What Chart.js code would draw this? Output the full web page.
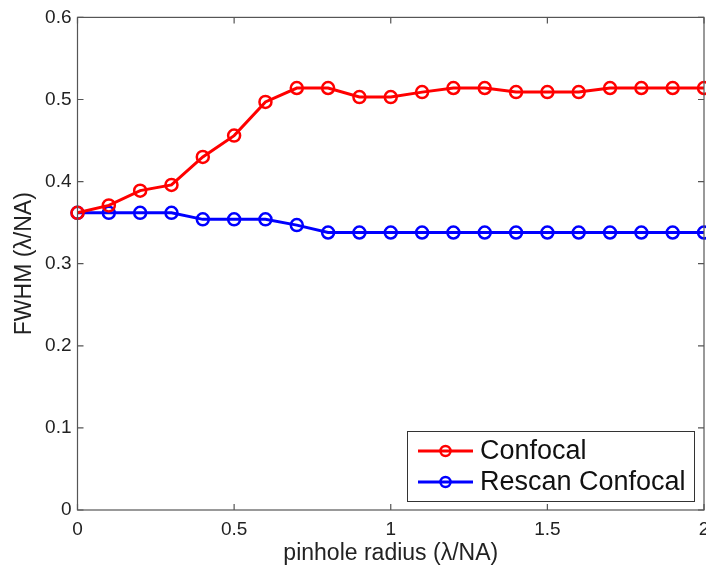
<!DOCTYPE html>
<html>
<head>
<meta charset="utf-8">
<script src="https://cdn.jsdelivr.net/npm/chart.js@4"></script>
<style>
  html, body { margin: 0; padding: 0; background: #fff; }
  #wrap { width: 706px; height: 567px; }
</style>
</head>
<body>
<div id="wrap"><canvas id="fwhmChart" width="706" height="567"></canvas></div>
<script>
// pinhole radius (lambda/NA)
const radius = [0, 0.1, 0.2, 0.3, 0.4, 0.5, 0.6, 0.7, 0.8, 0.9, 1.0,
                1.1, 1.2, 1.3, 1.4, 1.5, 1.6, 1.7, 1.8, 1.9, 2.0];
const confocal = [0.362, 0.371, 0.389, 0.396, 0.430, 0.456, 0.497, 0.514, 0.514, 0.503, 0.503,
                  0.509, 0.514, 0.514, 0.509, 0.509, 0.509, 0.514, 0.514, 0.514, 0.514];
const rescan = [0.362, 0.362, 0.362, 0.362, 0.354, 0.354, 0.354, 0.347, 0.338, 0.338, 0.338,
                0.338, 0.338, 0.338, 0.338, 0.338, 0.338, 0.338, 0.338, 0.338, 0.338];
const seriesNames = ['Confocal', 'Rescan Confocal'];
const seriesColors = ['#ff0000', '#0000ff'];
const xTicks = [0, 0.5, 1, 1.5, 2];
const yTicks = [0, 0.1, 0.2, 0.3, 0.4, 0.5, 0.6];

const FONT = 'Liberation Sans, Arial, sans-serif';

function toPoints(ys) {
  return radius.map(function (x, i) { return { x: x, y: ys[i] }; });
}

// box round the plot, with inward ticks like matlab
const boxPlugin = {
  id: 'boxAxes',
  afterDatasetsDraw: function (chart) {
    const ctx = chart.ctx;
    const a = chart.chartArea;
    const sx = chart.scales.x, sy = chart.scales.y;
    ctx.save();
    ctx.strokeStyle = '#555';
    ctx.lineWidth = 1.2;
    ctx.strokeRect(a.left, a.top, a.right - a.left, a.bottom - a.top);
    ctx.beginPath();
    xTicks.forEach(function (v) {
      const px = sx.getPixelForValue(v);
      ctx.moveTo(px, a.bottom); ctx.lineTo(px, a.bottom - 6);
      ctx.moveTo(px, a.top); ctx.lineTo(px, a.top + 6);
    });
    yTicks.forEach(function (v) {
      const py = sy.getPixelForValue(v);
      ctx.moveTo(a.left, py); ctx.lineTo(a.left + 6, py);
      ctx.moveTo(a.right, py); ctx.lineTo(a.right - 6, py);
    });
    ctx.stroke();

    // legend box, bottom right
    const lx = 407, ly = 431, lw = 287, lh = 70;
    ctx.fillStyle = '#fff';
    ctx.fillRect(lx, ly, lw, lh);
    ctx.strokeStyle = '#333';
    ctx.lineWidth = 1;
    ctx.strokeRect(lx + 0.5, ly + 0.5, lw, lh);
    ctx.font = '27px ' + FONT;
    ctx.textBaseline = 'middle';
    seriesNames.forEach(function (name, i) {
      const y = ly + 20 + i * 31;
      ctx.strokeStyle = seriesColors[i];
      ctx.lineWidth = 3;
      ctx.beginPath();
      ctx.moveTo(418, y); ctx.lineTo(473, y);
      ctx.stroke();
      ctx.lineWidth = 2.5;
      ctx.beginPath();
      ctx.arc(445.5, y, 5, 0, Math.PI * 2);
      ctx.stroke();
      ctx.fillStyle = '#111';
      ctx.fillText(name, 480, y + 1);
    });
    ctx.restore();
  }
};

const config = {
  type: 'line',
  data: {
    datasets: [
      {
        label: seriesNames[0],
        data: toPoints(confocal),
        borderColor: seriesColors[0],
        backgroundColor: 'transparent',
        borderWidth: 3,
        pointRadius: 6,
        pointBorderWidth: 2.5,
        pointBackgroundColor: 'transparent',
        pointBorderColor: seriesColors[0],
        tension: 0,
        clip: false
      },
      {
        label: seriesNames[1],
        data: toPoints(rescan),
        borderColor: seriesColors[1],
        backgroundColor: 'transparent',
        borderWidth: 3,
        pointRadius: 6,
        pointBorderWidth: 2.5,
        pointBackgroundColor: 'transparent',
        pointBorderColor: seriesColors[1],
        tension: 0,
        clip: false
      }
    ]
  },
  options: {
    responsive: false,
    animation: false,
    events: [],
    layout: { autoPadding: false, padding: { top: 16, right: 2, left: 0, bottom: 0 } },
    plugins: {
      legend: { display: false },
      tooltip: { enabled: false }
    },
    scales: {
      x: {
        type: 'linear',
        min: 0,
        max: 2,
        afterBuildTicks: function (scale) {
          scale.ticks = xTicks.map(function (v) { return { value: v }; });
        },
        afterFit: function (scale) {
          scale.height = 57;
          scale.paddingLeft = 0;
          scale.paddingRight = 0;
        },
        grid: { display: false },
        border: { display: false },
        ticks: {
          color: '#222',
          font: { family: FONT, size: 19 },
          padding: 0,
          maxRotation: 0,
          callback: function (v) { return String(v); }
        },
        title: {
          display: true,
          text: 'pinhole radius (λ/NA)',
          color: '#222',
          font: { family: FONT, size: 23 },
          padding: { top: 0, bottom: 0 }
        }
      },
      y: {
        min: 0,
        max: 0.6,
        afterBuildTicks: function (scale) {
          scale.ticks = yTicks.map(function (v) { return { value: v }; });
        },
        afterFit: function (scale) { scale.width = 77.5; },
        grid: { display: false, drawTicks: false },
        border: { display: false },
        ticks: {
          color: '#222',
          font: { family: FONT, size: 19 },
          padding: 6,
          callback: function (v) { return String(v); }
        },
        title: {
          display: true,
          text: 'FWHM (λ/NA)',
          color: '#222',
          font: { family: FONT, size: 23 },
          padding: { top: 11, bottom: 6 }
        }
      }
    }
  },
  plugins: [boxPlugin]
};

const myChart = new Chart(document.getElementById('fwhmChart'), config);
</script>
</body>
</html>
